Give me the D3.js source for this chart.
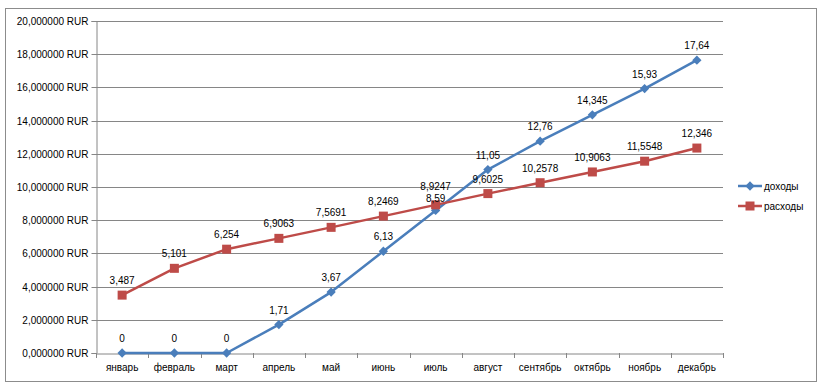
<!DOCTYPE html>
<html><head><meta charset="utf-8">
<script src="https://cdn.jsdelivr.net/npm/d3@7"></script>
<style>body{margin:0;background:#fff}svg{display:block}text{font-family:"Liberation Sans",Arial,sans-serif}</style>
</head><body><svg id="c" width="831" height="390"></svg>
<script>
const months = ["январь","февраль","март","апрель","май","июнь","июль","август","сентябрь","октябрь","ноябрь","декабрь"];
const incomeLabels = ["0","0","0","1,71","3,67","6,13","8,59","11,05","12,76","14,345","15,93","17,64"];
const income = [0,0,0,1.71,3.67,6.13,8.59,11.05,12.76,14.345,15.93,17.64];
const expenseLabels = ["3,487","5,101","6,254","6,9063","7,5691","8,2469","8,9247","9,6025","10,2578","10,9063","11,5548","12,346"];
const expense = [3.487,5.101,6.254,6.9063,7.5691,8.2469,8.9247,9.6025,10.2578,10.9063,11.5548,12.346];
const yTicks = [0,2,4,6,8,10,12,14,16,18,20];
const yTickLabels = ["0,000000 RUR","2,000000 RUR","4,000000 RUR","6,000000 RUR","8,000000 RUR","10,000000 RUR","12,000000 RUR","14,000000 RUR","16,000000 RUR","18,000000 RUR","20,000000 RUR"];
const seriesNames = ["доходы","расходы"];
const colors = ["#4A7EBB","#BE4B48"];

const svg = d3.select("#c");
const L=96,R=723,T=21,B=353;
svg.append("rect").attr("x",5.5).attr("y",8.5).attr("width",811).attr("height",373).attr("fill","#fff").attr("stroke","#8c8c8c").attr("stroke-width",1);

const x = d3.scaleBand().domain(months).range([L,R]);
const y = d3.scaleLinear().domain([0,20]).range([B,T]);

// gridlines
svg.append("g").selectAll("line").data(yTicks.slice(1)).join("line")
  .attr("x1",L).attr("x2",R).attr("y1",d=>Math.round(y(d))+0.5).attr("y2",d=>Math.round(y(d))+0.5)
  .attr("stroke","#868686").attr("stroke-width",1);

// y axis
const yAx = svg.append("g").attr("transform",`translate(${L+0.5},0)`)
  .call(d3.axisLeft(y).tickValues(yTicks).tickSize(5).tickPadding(3).tickFormat((d,i)=>yTickLabels[i]));
yAx.select(".domain").attr("stroke","#868686");
yAx.selectAll(".tick line").attr("stroke","#868686");
yAx.selectAll(".tick").attr("transform",d=>`translate(0,${Math.round(y(d))+0.5})`);
yAx.selectAll("text").attr("font-size",10).attr("fill","#000").style("font-family","'Liberation Sans',Arial,sans-serif");

// x axis
const xAx = svg.append("g").attr("transform",`translate(0,${B+0.5})`)
  .call(d3.axisBottom(x).tickSize(0).tickPadding(10));
xAx.select(".domain").attr("stroke","#868686");
xAx.selectAll("text").attr("font-size",10).attr("fill","#000").style("font-family","'Liberation Sans',Arial,sans-serif");
// boundary tick marks
const bounds = months.map(m=>x(m)).concat([R]);
svg.append("g").selectAll("line").data(bounds).join("line")
  .attr("x1",d=>Math.round(d)+0.5).attr("x2",d=>Math.round(d)+0.5).attr("y1",B).attr("y2",B+5)
  .attr("stroke","#868686");

const cx = m => x(m)+x.bandwidth()/2;
const line = d3.line().x((d,i)=>cx(months[i])).y(d=>y(d));

const data = [income, expense];
const labels = [incomeLabels, expenseLabels];
data.forEach((s,k)=>{
  svg.append("path").datum(s).attr("d",line).attr("fill","none").attr("stroke",colors[k]).attr("stroke-width",2.5).attr("stroke-linejoin","round");
});
// markers
svg.append("g").selectAll("path").data(income).join("path")
  .attr("d",d3.symbol(d3.symbolDiamond2,55)).attr("transform",(d,i)=>`translate(${cx(months[i])},${y(d)})`).attr("fill",colors[0]);
svg.append("g").selectAll("rect").data(expense).join("rect")
  .attr("x",(d,i)=>cx(months[i])-4.5).attr("y",d=>y(d)-4.5).attr("width",9).attr("height",9).attr("fill",colors[1]);
// labels (July labels nudged apart slightly so they don't collide)
const nudge = [[0,0,0,0,0,0,3,0,0,0,0,0],[0,0,0,0,0,0,-4,0,0,0,0,0]];
data.forEach((s,k)=>{
  svg.append("g").selectAll("text").data(s).join("text")
    .attr("x",(d,i)=>cx(months[i])).attr("y",(d,i)=>y(d)-11+nudge[k][i])
    .attr("text-anchor","middle").attr("font-size",10).attr("fill","#000")
    .text((d,i)=>labels[k][i]);
});

// legend
const leg = svg.append("g");
seriesNames.forEach((n,k)=>{
  const ly = 186 + k*20;
  leg.append("line").attr("x1",738).attr("x2",762).attr("y1",ly).attr("y2",ly).attr("stroke",colors[k]).attr("stroke-width",2.5);
  if(k===0) leg.append("path").attr("d",d3.symbol(d3.symbolDiamond2,55)).attr("transform",`translate(750,${ly})`).attr("fill",colors[0]);
  else leg.append("rect").attr("x",745.5).attr("y",ly-4.5).attr("width",9).attr("height",9).attr("fill",colors[1]);
  leg.append("text").attr("x",764).attr("y",ly+3.5).attr("font-size",10).attr("fill","#000").text(n);
});
</script></body></html>
